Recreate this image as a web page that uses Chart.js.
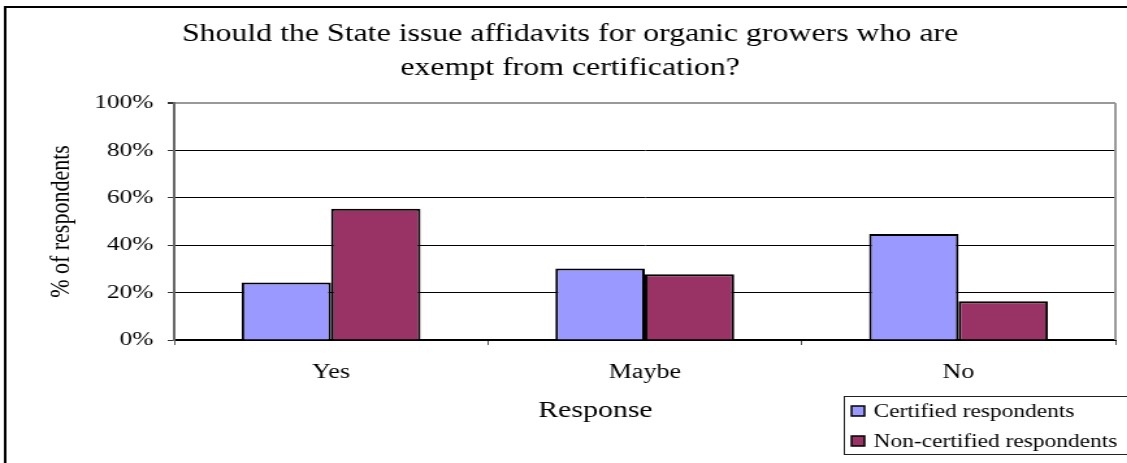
<!DOCTYPE html>
<html>
<head>
<meta charset="utf-8">
<script src="https://cdn.jsdelivr.net/npm/chart.js@4/dist/chart.umd.min.js"></script>
<style>
    html, body { margin: 0; padding: 0; background: #fff; overflow: hidden; }
    /* the original picture is stretched sideways, so the chart is drawn narrow and widened */
    #wrap { position: absolute; left: 0; top: 0; width: 867px; height: 463px;
            transform: scaleX(1.3); transform-origin: 0 0; }
    #chart { display: block; }
</style>
</head>
<body>
<div id="wrap"><canvas id="chart" width="867" height="463"></canvas></div>
<script>
    // Chart data
    const titleLines = ['Should the State issue affidavits for organic growers who are', 'exempt from certification?'];
    const categories = ['Yes', 'Maybe', 'No'];
    const certified = [24.3, 30.2, 44.7];
    const nonCertified = [55.4, 27.7, 16.4];
    const seriesNames = ['Certified respondents', 'Non-certified respondents'];
    const yAxisTitle = '% of respondents';
    const xAxisTitle = 'Response';

    const FONT = 'Liberation Serif, Times New Roman, serif';

    /**
     * Draws the outer frame, the right plot border, the x-axis title and the legend box
     */
    const framePlugin = {
        id: 'frame',
        afterDraw(chart) {
            const ctx = chart.ctx;
            const area = chart.chartArea;
            ctx.save();

            // right edge of plot area
            ctx.strokeStyle = '#999';
            ctx.lineWidth = 2;
            ctx.beginPath();
            ctx.moveTo(area.right, area.top);
            ctx.lineTo(area.right, area.bottom);
            ctx.stroke();

            // outer chart border (left and top visible)
            ctx.strokeStyle = '#000';
            ctx.lineWidth = 2;
            ctx.beginPath();
            ctx.moveTo(4, chart.height);
            ctx.lineTo(4, 7);
            ctx.lineTo(chart.width, 7);
            ctx.stroke();

            // x-axis title
            ctx.fillStyle = '#000';
            ctx.font = '23px ' + FONT;
            ctx.textAlign = 'center';
            ctx.textBaseline = 'middle';
            ctx.fillText(xAxisTitle, 458, 411);

            // legend box
            ctx.strokeStyle = '#222';
            ctx.lineWidth = 1;
            ctx.strokeRect(649.5, 396.5, 220, 58);
            ctx.font = '18px ' + FONT;
            ctx.textAlign = 'left';
            chart.data.datasets.forEach((ds, i) => {
                const cy = 411 + i * 30;
                ctx.fillStyle = ds.backgroundColor;
                ctx.fillRect(655, cy - 5, 10, 10);
                ctx.strokeStyle = '#000';
                ctx.lineWidth = 1.5;
                ctx.strokeRect(655, cy - 5, 10, 10);
                ctx.fillStyle = '#000';
                ctx.fillText(ds.label, 672, cy + 1);
            });

            ctx.restore();
        }
    };

    document.addEventListener('DOMContentLoaded', function() {
        const ctx = document.getElementById('chart');

        new Chart(ctx, {
            type: 'bar',
            data: {
                labels: categories,
                datasets: [{
                    label: seriesNames[0],
                    data: certified,
                    backgroundColor: '#9999FF',
                    borderColor: '#000',
                    borderWidth: 2,
                    categoryPercentage: 0.57,
                    barPercentage: 1.0
                }, {
                    label: seriesNames[1],
                    data: nonCertified,
                    backgroundColor: '#993366',
                    borderColor: '#000',
                    borderWidth: 2,
                    categoryPercentage: 0.57,
                    barPercentage: 1.0
                }]
            },
            options: {
                responsive: false,
                animation: false,
                devicePixelRatio: 1,
                layout: {
                    padding: { left: 19, right: 9, top: 0, bottom: 0 }
                },
                plugins: {
                    legend: { display: false },
                    tooltip: { enabled: false },
                    title: {
                        display: true,
                        text: titleLines,
                        color: '#000',
                        font: { family: FONT, size: 24.5, weight: 'normal', lineHeight: 34 / 24.5 },
                        padding: { top: 18, bottom: 17 }
                    }
                },
                scales: {
                    x: {
                        grid: {
                            drawOnChartArea: false,
                            offset: true,
                            tickLength: 5,
                            tickColor: '#555'
                        },
                        border: { color: '#000', width: 2 },
                        ticks: {
                            color: '#000',
                            font: { family: FONT, size: 20 },
                            padding: 16
                        },
                        afterFit: function(scale) {
                            scale.height = 123;
                        }
                    },
                    y: {
                        min: 0,
                        max: 100,
                        ticks: {
                            stepSize: 20,
                            color: '#000',
                            font: { family: FONT, size: 19.5 },
                            padding: 11,
                            callback: function(value) {
                                return value + '%';
                            }
                        },
                        grid: {
                            color: c => c.tick && c.tick.value === 100 ? '#999' : '#000',
                            lineWidth: c => c.tick && c.tick.value === 100 ? 2 : 1,
                            tickLength: 5,
                            tickColor: '#333'
                        },
                        border: { color: '#666', width: 2 },
                        title: {
                            display: true,
                            text: yAxisTitle,
                            color: '#000',
                            font: { family: FONT, size: 22 },
                            padding: { top: 15 }
                        },
                        afterFit: function(scale) {
                            scale.width = 115;
                        }
                    }
                }
            },
            plugins: [framePlugin]
        });
    });
</script>
</body>
</html>
